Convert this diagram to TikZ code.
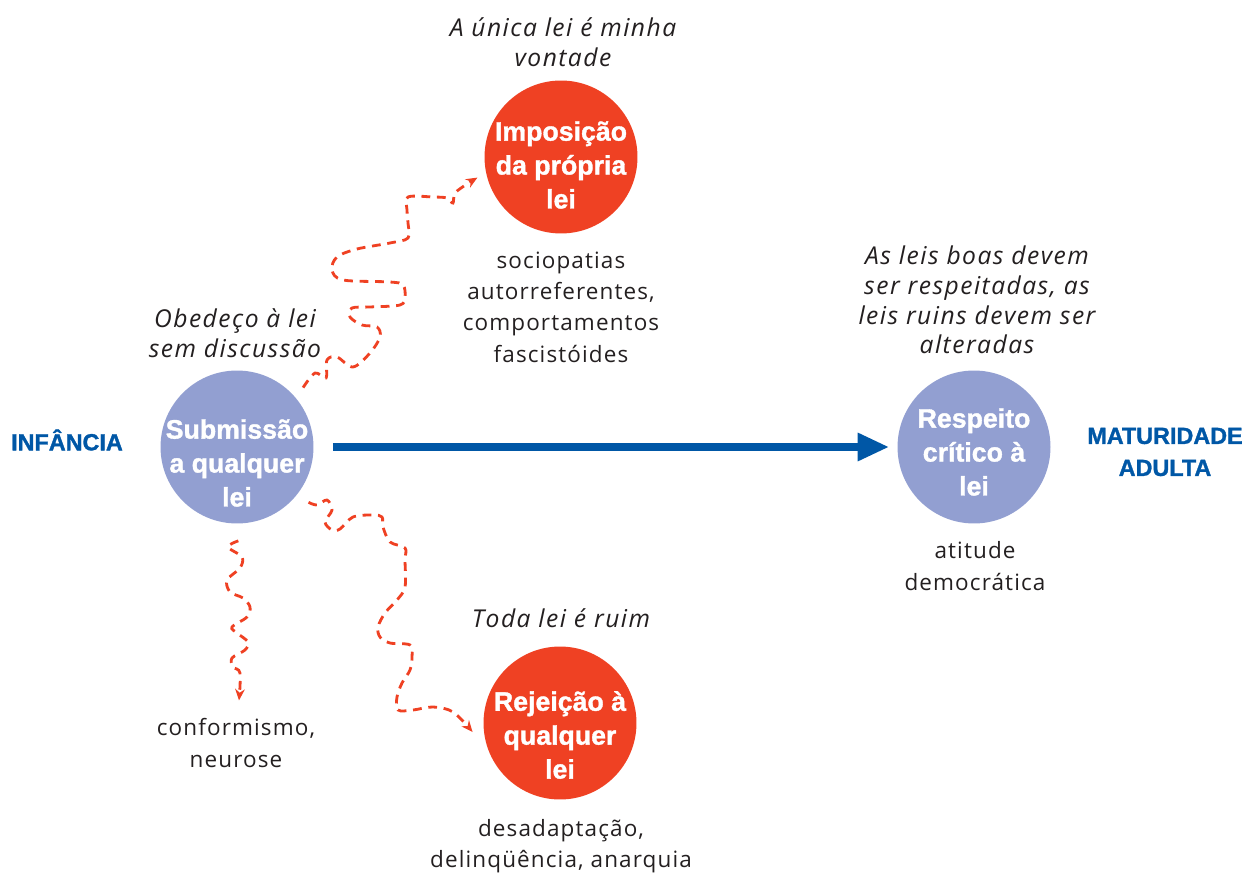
\documentclass[tikz,border=0pt]{standalone}
\usepackage{fontspec}
\setmainfont{Open Sans}[LetterSpace=5, ItalicFeatures={LetterSpace=6}]
\newfontfamily\headfont{Liberation Sans}[BoldFeatures={FakeBold=1.3}]
\usetikzlibrary{arrows.meta}
\definecolor{lawred}{HTML}{EF4123}
\definecolor{lawlilac}{HTML}{929FD1}
\definecolor{lawblue}{HTML}{0057A6}
\definecolor{ink}{HTML}{231F20}
\tikzset{
  stage/.style={circle, inner sep=0pt, minimum size=3.06cm},
  stagetext/.style={text=white, align=center, font=\headfont\bfseries\fontsize{15.2}{19.3}\selectfont},
  note/.style={text=ink, align=center, font=\fontsize{12.8}{17.8}\selectfont},
  motto/.style={text=ink, align=center, font=\fontsize{14}{16.9}\selectfont\itshape},
  phase/.style={text=lawblue, align=center, font=\headfont\bfseries\fontsize{13.3}{18.2}\selectfont},
  drift/.style={draw=lawred, line width=1.6pt, dash pattern=on 5pt off 3.8pt, -{Stealth[length=6.5pt,width=5.5pt]}},
  growth/.style={draw=lawblue, line width=5pt, -{Triangle[length=18pt,width=15pt]}}
}
\begin{document}
\begin{tikzpicture}[x=0.02cm, y=-0.02cm]
  \useasboundingbox (0,0) rectangle (1246,874);
  % Stages
  \node[stage, fill=lawlilac] (sub) at (237,447) {};
  \node[stage, fill=lawred] (imp) at (561,157) {};
  \node[stage, fill=lawred] (rej) at (560,723) {};
  \node[stage, fill=lawlilac] (resp) at (974,447) {};
  \node[stagetext] (sub-t) at (237,463) {Submissão\\a qualquer\\lei};
  \node[stagetext] (imp-t) at (561,165) {Imposição\\da própria\\lei};
  \node[stagetext] (rej-t) at (560,735) {Rejeição à\\qualquer\\lei};
  \node[stagetext] (resp-t) at (974,452) {Respeito\\crítico à\\lei};
  % Phases
  \node[phase] (child) at (67,440) {INFÂNCIA};
  \node[phase] (adult) at (1165,452) {MATURIDADE\\ADULTA};
  % Mottos
  \node[motto] (imp-m) at (563,42) {A única lei é minha\\vontade};
  \node[motto] (sub-m) at (235,333) {Obedeço à lei\\sem discussão};
  \node[motto] (resp-m) at (977,300) {As leis boas devem\\ser respeitadas, as\\leis ruins devem ser\\alteradas};
  \node[motto] (rej-m) at (561,618) {Toda lei é ruim};
  % Outcomes
  \node[note] (imp-o) at (561,307) {sociopatias\\autorreferentes,\\comportamentos\\fascistóides};
  \node[note] (resp-o) at (975,566) {atitude\\democrática};
  \node[note] (rej-o) at (561,846) {desadaptação,\\delinqüência, anarquia};
  \node[note] (conf) at (236,743) {conformismo,\\neurose};
  % Growth
  \draw[growth, shorten <=10.8pt, shorten >=4.5pt] (sub) -- (resp);
  % Deviations
  \draw[drift] plot[smooth, tension=0.55] coordinates {([shift={(9,-8)}]sub.42) (315,373) (326,378) (327,360) (337,357) (353,367) (370,353) (380,337) (377,327) (362,325) (350,317) (352,308) (370,307) (400,305) (405,297) (403,285) (390,282) (343,280) (332,270) (337,257) (357,249) (390,243) (408,238) (408,223) (407,210) (408,197) (433,197) (447,198) (453,203) (456,192) ([shift={(-9,2)}]imp.194)};
  \draw[drift] plot[smooth, tension=0.55] coordinates {([shift={(0,17)}]sub.-89) (228,547) (242,557) (240,568) (227,580) (230,592) (243,598) (250,607) (247,617) (232,627) (237,633) (248,642) (245,650) (232,658) (233,667) (240,673) ([shift={(3,-12)}]conf.north)};
  \draw[drift] plot[smooth, tension=0.55] coordinates {([shift={(11,8)}]sub.-38) (317,505) (327,500) (332,510) (325,522) (332,530) (340,529) (353,517) (373,515) (382,517) (383,527) (390,542) (405,548) (405,560) (405,587) (397,600) (385,613) (378,627) (380,637) (390,643) (410,645) (412,657) (410,670) (402,683) (397,697) (398,710) (413,710) (433,707) (453,712) ([shift={(-11,1)}]rej.186)};
\end{tikzpicture}
\end{document}
